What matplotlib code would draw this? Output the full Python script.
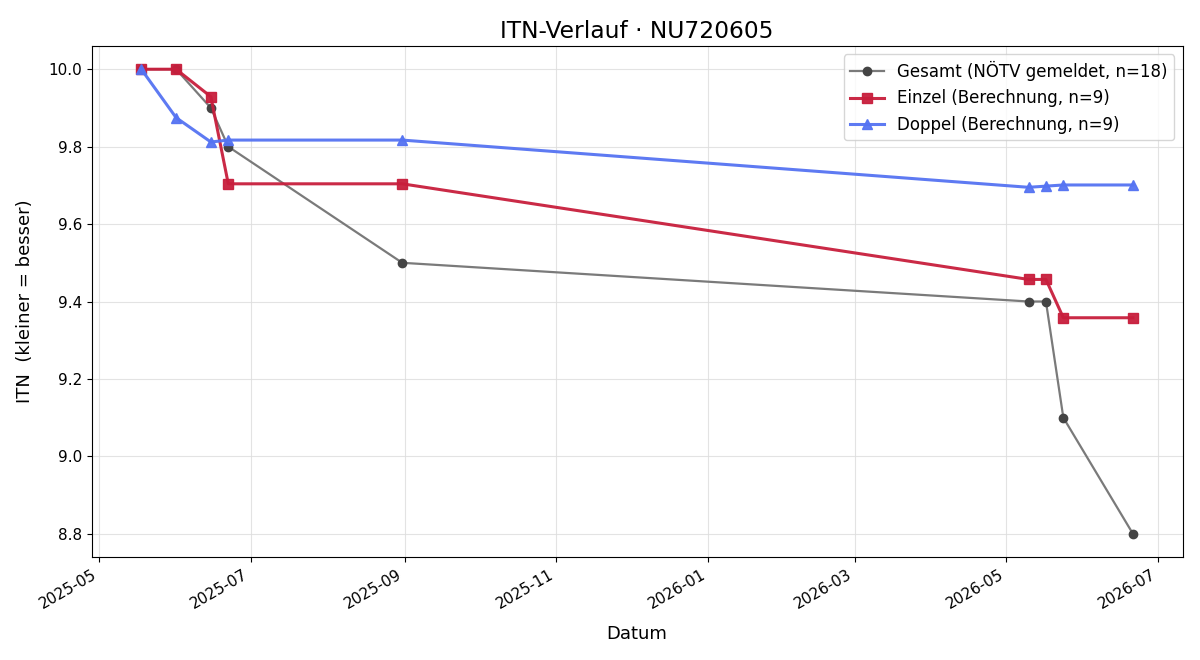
import matplotlib
matplotlib.use("Agg")
import matplotlib.pyplot as plt
import matplotlib.dates as mdates
import pandas as pd

dates = ["2025-05-18", "2025-06-01", "2025-06-15", "2025-06-22", "2025-08-31",
         "2026-05-10", "2026-05-17", "2026-05-24", "2026-06-21"]
gesamt = [10.0, 10.0, 9.9, 9.8, 9.5, 9.4, 9.4, 9.1, 8.8]
einzel = [10.0, 10.0, 9.929, 9.704, 9.704, 9.457, 9.457, 9.358, 9.358]
doppel = [10.0, 9.875, 9.812, 9.817, 9.817, 9.695, 9.698, 9.701, 9.701]

x = pd.to_datetime(dates)

fig, ax = plt.subplots(figsize=(12, 6.6), dpi=100)
ax.plot(x, gesamt, color="#7a7a7a", lw=1.6, marker="o", ms=6,
        markerfacecolor="#444444", markeredgecolor="#444444",
        label="Gesamt (NÖTV gemeldet, n=18)", zorder=2)
ax.plot(x, einzel, color="#C81E3C", lw=2.2, marker="s", ms=7, alpha=0.95,
        label="Einzel (Berechnung, n=9)", zorder=3)
ax.plot(x, doppel, color="#5573F2", lw=2.2, marker="^", ms=7, alpha=0.95,
        label="Doppel (Berechnung, n=9)", zorder=4)

ax.set_title("ITN-Verlauf · NU720605", fontsize=16.8)
ax.set_xlabel("Datum", fontsize=13, labelpad=10)
ax.set_ylabel("ITN  (kleiner = besser)", fontsize=13, labelpad=10)
ax.grid(True, color="#dddddd", lw=0.8, alpha=0.8)
ax.xaxis.set_major_locator(mdates.MonthLocator(bymonth=[1, 3, 5, 7, 9, 11]))
ax.xaxis.set_major_formatter(mdates.DateFormatter("%Y-%m"))
ax.tick_params(labelsize=11)
ax.legend(loc="upper right", fontsize=12)
fig.autofmt_xdate()
fig.subplots_adjust(left=91.7 / 1200, right=1182.5 / 1200, top=1 - 46 / 660, bottom=1 - 557 / 660)
fig.savefig("out.png", dpi=100)
